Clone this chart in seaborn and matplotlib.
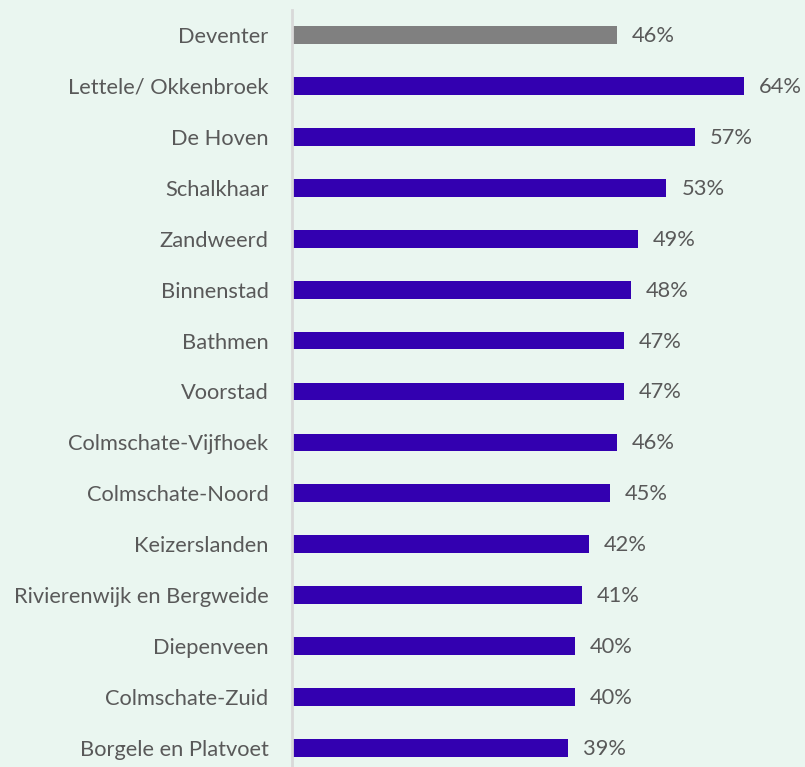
import matplotlib
matplotlib.use("Agg")
import matplotlib.pyplot as plt
import seaborn as sns
import pandas as pd

categories = [
    "Deventer", "Lettele/ Okkenbroek", "De Hoven", "Schalkhaar", "Zandweerd",
    "Binnenstad", "Bathmen", "Voorstad", "Colmschate-Vijfhoek", "Colmschate-Noord",
    "Keizerslanden", "Rivierenwijk en Bergweide", "Diepenveen", "Colmschate-Zuid",
    "Borgele en Platvoet",
]
values = [46, 64, 57, 53, 49, 48, 47, 47, 46, 45, 42, 41, 40, 40, 39]

bg = "#EAF6F0"
bar_main = "#3300B0"
bar_total = "#808080"
text_col = "#595959"

sns.set_theme(style="white")
plt.rcParams["font.family"] = ["Lato", "DejaVu Sans"]

df = pd.DataFrame({"wijk": categories, "pct": values})
palette = {c: (bar_total if c == "Deventer" else bar_main) for c in categories}

W, H = 805, 767
fig = plt.figure(figsize=(W / 100, H / 100), dpi=100, facecolor=bg)
ax = fig.add_axes([292 / W, 0, (W - 292) / W, (H - 9.5) / H])
ax.set_facecolor(bg)

sns.barplot(data=df, x="pct", y="wijk", hue="wijk", palette=palette,
            order=categories, width=0.35, legend=False, ax=ax, saturation=1,
            linewidth=0)

for i, v in enumerate(values):
    ax.annotate(f"{v}%", xy=(v, i), xytext=(15, -1), textcoords="offset pixels",
                va="center", ha="left", fontsize=15.75, color=text_col)

ax.set_xlim(0, (W - 292) / 7.065)
ax.set_ylim(14 + (H - 748) / 50.93, -0.5)
ax.set_xlabel("")
ax.set_ylabel("")
ax.set_xticks([])
ax.tick_params(axis="y", length=0, pad=17, labelsize=15.75, labelcolor=text_col)
for s in ["top", "right", "bottom"]:
    ax.spines[s].set_visible(False)
ax.spines["left"].set_color("#D9D9D9")
ax.spines["left"].set_linewidth(2)

fig.savefig("out.png", dpi=100, facecolor=bg)
